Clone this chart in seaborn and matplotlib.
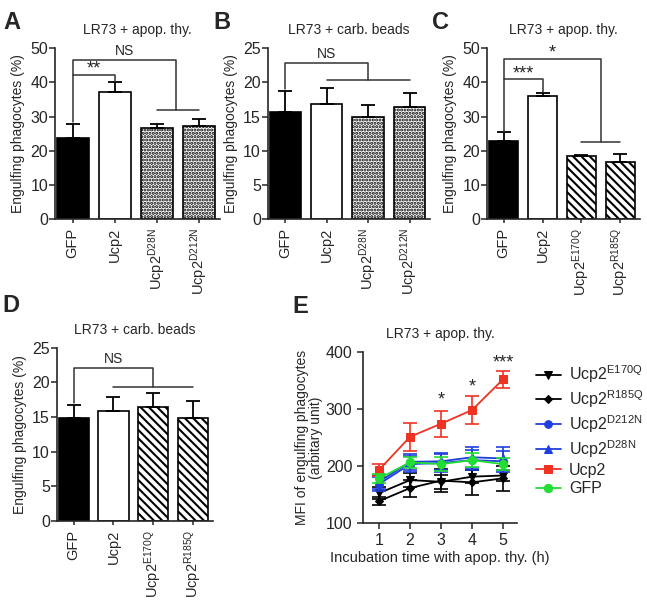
import seaborn as sns
import matplotlib.pyplot as plt
import numpy as np
import pandas as pd

sns.set_style('ticks')
plt.rcParams['font.family'] = ['Liberation Sans', 'DejaVu Sans']
plt.rcParams['mathtext.default'] = 'regular'
plt.rcParams['hatch.linewidth'] = 1.5
plt.rcParams['axes.linewidth'] = 1.2

# bar panels: group labels, means, upper SEM
groups_d = ['GFP', 'Ucp2', 'Ucp2$^{D28N}$', 'Ucp2$^{D212N}$']
groups_m = ['GFP', 'Ucp2', 'Ucp2$^{E170Q}$', 'Ucp2$^{R185Q}$']

means_a = [23.8, 37.2, 26.6, 27.1]
sem_a = [4.0, 3.0, 1.3, 2.3]

means_b = [15.6, 16.8, 15.0, 16.4]
sem_b = [3.2, 2.4, 1.7, 2.1]

means_c = [22.9, 36.0, 18.3, 16.6]
sem_c = [2.5, 0.9, 0.3, 2.5]

means_d = [14.9, 15.9, 16.4, 14.9]
sem_d = [1.9, 2.0, 2.0, 2.4]

# panel E: time course
hours = [1, 2, 3, 4, 5]
e170q = [152, 175, 172, 181, 183]
e170q_err = [10, 12, 12, 12, 10]
r185q = [138, 161, 174, 171, 178]
r185q_err = [7, 15, 20, 22, 22]
d212n = [168, 203, 205, 210, 208]
d212n_err = [12, 14, 15, 18, 18]
d28n = [172, 207, 208, 215, 213]
d28n_err = [12, 14, 15, 18, 20]
ucp2 = [193, 251, 274, 298, 352]
ucp2_err = [10, 25, 23, 25, 15]
gfp = [178, 206, 203, 210, 203]
gfp_err = [8, 10, 12, 12, 10]

ylabel = 'Engulfing phagocytes (%)'
FS = 10


def bar_panel(ax, groups, means, sems, hatch, ymax, step, title):
    df = pd.DataFrame({'group': groups, 'value': means})
    colors = ['black', 'white', 'white', 'white']
    sns.barplot(data=df, x='group', y='value', hue='group', palette=colors,
                legend=False, width=0.76, edgecolor='black', linewidth=1.2, ax=ax)
    for i, p in enumerate(ax.patches):
        if i >= 2:
            p.set_hatch(hatch)
    ax.errorbar(range(len(means)), means, yerr=[np.zeros(len(sems)), sems],
                fmt='none', ecolor='black', elinewidth=1.3, capsize=5, capthick=1.3)
    ax.set_ylim(0, ymax)
    ax.set_xlim(-0.42, 3.5)
    ax.set_yticks(np.arange(0, ymax + 1, step))
    ax.set_xlabel('')
    ax.set_ylabel(ylabel, fontsize=FS)
    ax.tick_params(axis='x', rotation=90, labelsize=FS + 0.5, length=3, width=1.1)
    ax.tick_params(axis='y', labelsize=FS + 1.5, length=4, width=1.1, pad=1)
    ax.set_title(title, fontsize=FS, pad=10)
    sns.despine(ax=ax)


def bracket(ax, x0, x1, y0, ytop, y1, text, fs=FS, dy=0.3):
    ax.plot([x0, x0, x1, x1], [y0, ytop, ytop, y1], color='#333333', lw=1.1,
            clip_on=False)
    ax.text((x0 + x1) / 2, ytop + dy, text, ha='center', va='bottom',
            fontsize=fs, clip_on=False)


def hline(ax, x0, x1, y):
    ax.plot([x0, x1], [y, y], color='#333333', lw=1.1, clip_on=False)


fig = plt.figure(figsize=(6.47, 6.10), dpi=100)

ax_a = fig.add_axes([0.085, 0.641, 0.255, 0.280])
bar_panel(ax_a, groups_d, means_a, sem_a, '.....', 50, 10, 'LR73 + apop. thy.')
bracket(ax_a, 0, 1, 28.5, 42.2, 40.3, '**', fs=13, dy=-0.8)
bracket(ax_a, 0, 2.45, 42.2, 46.6, 32.0, 'NS', dy=0.4)
hline(ax_a, 2, 3, 32.0)

ax_b = fig.add_axes([0.414, 0.641, 0.251, 0.280])
bar_panel(ax_b, groups_d, means_b, sem_b, '.....', 25, 5, 'LR73 + carb. beads')
bracket(ax_b, 0, 2, 19.0, 22.8, 20.4, 'NS', dy=0.3)
hline(ax_b, 1, 3, 20.4)

ax_c = fig.add_axes([0.753, 0.641, 0.236, 0.280])
bar_panel(ax_c, groups_m, means_c, sem_c, '\\\\\\\\', 50, 10, 'LR73 + apop. thy.')
bracket(ax_c, 0, 1, 25.6, 41.0, 37.3, '***', fs=13, dy=-0.9)
bracket(ax_c, 0, 2.5, 41.0, 46.9, 22.5, '*', fs=13, dy=-0.9)
hline(ax_c, 2, 3, 22.5)

ax_d = fig.add_axes([0.088, 0.146, 0.241, 0.284])
bar_panel(ax_d, groups_m, means_d, sem_d, '\\\\\\\\', 25, 5, 'LR73 + carb. beads')
bracket(ax_d, 0, 2, 17.0, 22.1, 19.4, 'NS', dy=0.3)
hline(ax_d, 1, 3, 19.4)

# panel E
ax_e = fig.add_axes([0.561, 0.143, 0.238, 0.280])
series = [
    ('Ucp2$^{E170Q}$', e170q, e170q_err, 'black', 'v', 6),
    ('Ucp2$^{R185Q}$', r185q, r185q_err, 'black', 'D', 4.5),
    ('Ucp2$^{D212N}$', d212n, d212n_err, '#1f3fdd', 'o', 5.5),
    ('Ucp2$^{D28N}$', d28n, d28n_err, '#1f3fdd', '^', 6),
    ('Ucp2', ucp2, ucp2_err, '#ee3322', 's', 6),
    ('GFP', gfp, gfp_err, '#22dd33', 'o', 6),
]
for name, vals, errs, col, mk, ms in series:
    ax_e.errorbar(hours, vals, yerr=errs, fmt='none', ecolor=col,
                  elinewidth=1.2, capsize=5, capthick=1.2)
    sns.lineplot(x=hours, y=vals, color=col, marker=mk, markersize=ms,
                 markeredgecolor=col, linewidth=1.3, label=name, ax=ax_e)

ax_e.set_xlim(0.48, 5.45)
ax_e.set_ylim(100, 400)
ax_e.set_xticks(hours)
ax_e.set_yticks([100, 200, 300, 400])
ax_e.tick_params(axis='both', labelsize=FS + 1.5, length=4, width=1.1)
ax_e.set_xlabel('Incubation time with apop. thy. (h)', fontsize=FS + 0.5, labelpad=2)
ax_e.set_ylabel('MFI of engulfing phagocytes\n(arbitary unit)', fontsize=FS,
                linespacing=1.0, labelpad=2)
ax_e.set_title('LR73 + apop. thy.', fontsize=FS, pad=10)
for x, y, s in [(3, 300, '*'), (4, 324, '*'), (5, 365, '***')]:
    ax_e.text(x, y, s, ha='center', va='bottom', fontsize=13, clip_on=False)
ax_e.legend(loc='upper left', bbox_to_anchor=(1.08, 0.97), frameon=False,
            fontsize=FS + 1.5, handlelength=1.6, handletextpad=0.5,
            labelspacing=0.2, borderaxespad=0)
sns.despine(ax=ax_e)

for lab, x, y in [('A', 0.006, 0.963), ('B', 0.330, 0.963), ('C', 0.668, 0.963),
                  ('D', 0.004, 0.500), ('E', 0.452, 0.497)]:
    fig.text(x, y, lab, fontsize=17, fontweight='bold', va='center')

fig.savefig('out.png', dpi=100)
